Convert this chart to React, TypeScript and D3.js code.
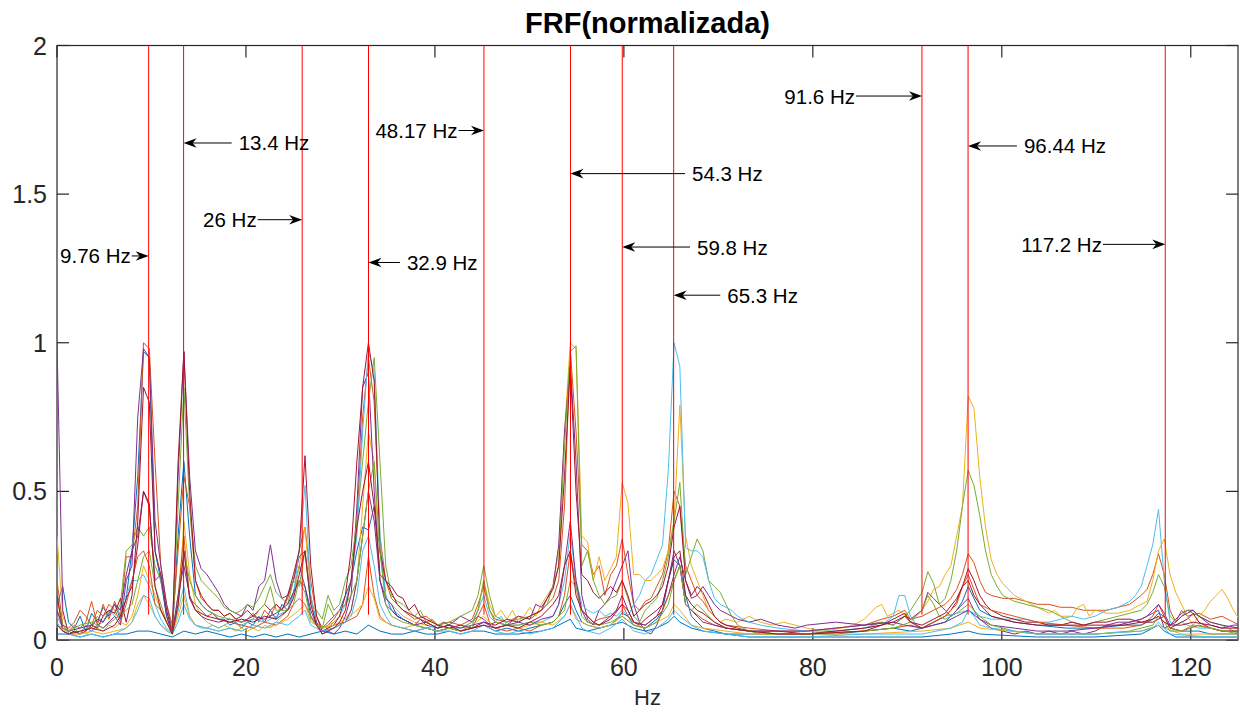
import React from 'react';
import * as d3 from 'd3';

type P = [number, number];

// frequency resolution (Hz per bin)
const DF = 0.6104;

const COLORS = ['#0072BD', '#D95319', '#EDB120', '#7E2F8E', '#77AC30', '#4DBEEE', '#A2142F'];

// each series: [bin, normalized value]
const blueA: P[] = [[0,0.12],[1,0.18],[2,0.06],[3,0.04],[4,0.08],[5,0.03],[6,0.09],[7,0.06],[8,0.11],[9,0.08],[10,0.12],[11,0.07],[12,0.14],[13,0.3],[14,0.55],[15,0.97],[16,0.95],[17,0.3],[18,0.2],[19,0.08],[20,0.02],[21,0.35],[22,0.6],[23,0.35],[24,0.15],[25,0.12],[26,0.1],[27,0.09],[28,0.07],[29,0.07],[30,0.05],[31,0.06],[32,0.04],[33,0.06],[34,0.05],[35,0.08],[36,0.06],[37,0.1],[38,0.07],[39,0.12],[40,0.1],[41,0.16],[42,0.25],[43,0.18],[44,0.08],[45,0.05],[46,0.04],[47,0.06],[48,0.08],[49,0.1],[50,0.15],[51,0.2],[52,0.3],[53,0.38],[54,0.37],[55,0.45],[56,0.3],[57,0.15],[58,0.1],[59,0.08],[60,0.07],[62,0.05],[64,0.04],[66,0.03],[68,0.04],[70,0.03],[72,0.04],[74,0.05],[76,0.03],[78,0.04],[80,0.03],[82,0.04],[84,0.05],[86,0.06],[87,0.08],[88,0.12],[89,0.15],[90,0.1],[91,0.06],[92,0.05],[94,0.04],[96,0.05],[98,0.09],[99,0.08],[100,0.05],[102,0.04],[104,0.07],[105,0.1],[106,0.2],[107,0.27],[108,0.25],[109,0.15],[110,0.08],[111,0.06],[112,0.04],[114,0.03],[116,0.02],[120,0.02],[125,0.02],[130,0.02],[135,0.02],[140,0.03],[145,0.04],[148,0.03],[150,0.04],[152,0.05],[154,0.06],[156,0.1],[157,0.13],[158,0.18],[159,0.14],[160,0.1],[162,0.08],[164,0.07],[166,0.06],[170,0.05],[175,0.04],[180,0.04],[185,0.05],[188,0.05],[190,0.07],[191,0.09],[192,0.08],[193,0.04],[195,0.03],[198,0.03],[200,0.02],[205,0.02]];

const orangeA: P[] = [[0,0.2],[1,0.05],[2,0.03],[3,0.05],[4,0.04],[5,0.06],[6,0.13],[7,0.05],[8,0.12],[9,0.07],[10,0.13],[11,0.08],[12,0.28],[13,0.28],[14,0.45],[15,1.0],[16,0.98],[17,0.6],[18,0.25],[19,0.12],[20,0.05],[21,0.3],[22,0.55],[23,0.45],[24,0.2],[25,0.14],[26,0.12],[27,0.1],[28,0.1],[29,0.08],[30,0.09],[31,0.07],[32,0.06],[33,0.07],[34,0.09],[35,0.06],[36,0.1],[37,0.08],[38,0.12],[39,0.1],[40,0.14],[41,0.2],[42,0.3],[43,0.38],[44,0.2],[45,0.08],[46,0.04],[47,0.05],[48,0.07],[49,0.1],[50,0.12],[51,0.2],[52,0.4],[53,0.75],[54,0.95],[55,0.8],[56,0.35],[57,0.2],[58,0.14],[59,0.12],[60,0.1],[62,0.07],[64,0.08],[66,0.05],[68,0.06],[70,0.05],[72,0.07],[73,0.12],[74,0.18],[75,0.1],[76,0.07],[78,0.06],[80,0.08],[82,0.07],[84,0.1],[85,0.12],[86,0.14],[87,0.2],[88,0.45],[89,0.98],[90,0.7],[91,0.32],[92,0.3],[93,0.22],[94,0.25],[95,0.15],[96,0.22],[97,0.25],[98,0.34],[99,0.22],[100,0.12],[101,0.1],[102,0.13],[103,0.14],[104,0.18],[105,0.22],[106,0.3],[107,0.5],[108,0.45],[109,0.25],[110,0.2],[111,0.15],[112,0.13],[113,0.1],[114,0.08],[115,0.06],[116,0.05],[120,0.04],[125,0.03],[130,0.03],[135,0.04],[140,0.05],[143,0.07],[145,0.08],[147,0.1],[148,0.07],[150,0.08],[152,0.1],[154,0.12],[155,0.14],[156,0.17],[157,0.22],[158,0.29],[159,0.26],[160,0.2],[161,0.16],[162,0.15],[164,0.14],[166,0.14],[168,0.13],[170,0.12],[172,0.12],[174,0.11],[176,0.11],[178,0.1],[180,0.1],[182,0.1],[184,0.11],[186,0.12],[188,0.15],[189,0.17],[190,0.22],[191,0.29],[192,0.22],[193,0.1],[194,0.06],[195,0.1],[196,0.08],[198,0.09],[200,0.07],[202,0.08],[204,0.06],[205,0.05]];

const yellowA: P[] = [[0,0.35],[1,0.08],[2,0.03],[3,0.02],[4,0.03],[5,0.02],[6,0.03],[7,0.04],[8,0.03],[9,0.05],[10,0.04],[11,0.06],[12,0.05],[13,0.08],[14,0.15],[15,0.25],[16,0.2],[17,0.15],[18,0.1],[19,0.06],[20,0.03],[21,0.1],[22,0.4],[23,0.22],[24,0.12],[25,0.08],[26,0.06],[27,0.05],[28,0.04],[29,0.05],[30,0.04],[31,0.03],[32,0.04],[33,0.03],[34,0.04],[35,0.03],[36,0.05],[37,0.04],[38,0.06],[39,0.08],[40,0.1],[41,0.15],[42,0.25],[43,0.38],[44,0.15],[45,0.06],[46,0.04],[47,0.05],[48,0.06],[49,0.08],[50,0.07],[51,0.1],[52,0.2],[53,0.45],[54,0.7],[55,0.6],[56,0.2],[57,0.14],[58,0.12],[59,0.1],[60,0.08],[62,0.06],[64,0.05],[65,0.07],[66,0.05],[67,0.06],[68,0.05],[70,0.04],[72,0.06],[73,0.1],[74,0.2],[75,0.12],[76,0.08],[77,0.1],[78,0.07],[79,0.1],[80,0.06],[81,0.08],[82,0.11],[83,0.08],[84,0.12],[85,0.15],[86,0.18],[87,0.3],[88,0.7],[89,1.0],[90,0.98],[91,0.35],[92,0.33],[93,0.2],[94,0.28],[95,0.2],[96,0.24],[97,0.28],[98,0.53],[99,0.46],[100,0.22],[101,0.22],[102,0.2],[103,0.2],[104,0.22],[105,0.24],[106,0.3],[107,0.4],[108,0.79],[109,0.35],[110,0.25],[111,0.2],[112,0.15],[113,0.1],[114,0.08],[115,0.06],[116,0.07],[118,0.06],[120,0.08],[122,0.06],[124,0.05],[126,0.06],[128,0.05],[130,0.04],[133,0.03],[136,0.04],[138,0.05],[140,0.07],[142,0.11],[143,0.12],[144,0.08],[146,0.1],[148,0.07],[150,0.1],[151,0.13],[152,0.17],[153,0.18],[154,0.22],[155,0.25],[156,0.35],[157,0.45],[158,0.82],[159,0.78],[160,0.55],[161,0.38],[162,0.27],[163,0.22],[164,0.19],[166,0.15],[168,0.13],[170,0.11],[172,0.09],[173,0.1],[174,0.08],[176,0.08],[177,0.11],[178,0.12],[179,0.08],[180,0.1],[182,0.09],[184,0.09],[186,0.1],[188,0.12],[189,0.13],[190,0.2],[191,0.3],[192,0.34],[193,0.22],[194,0.16],[195,0.12],[196,0.08],[197,0.05],[198,0.08],[199,0.1],[200,0.13],[201,0.15],[202,0.17],[203,0.14],[204,0.1],[205,0.07]];

const purpleA: P[] = [[0,1.0],[1,0.1],[2,0.02],[3,0.03],[4,0.02],[5,0.04],[6,0.03],[7,0.05],[8,0.04],[9,0.06],[10,0.08],[11,0.05],[12,0.2],[13,0.25],[14,0.75],[15,0.98],[16,0.95],[17,0.4],[18,0.25],[19,0.12],[20,0.03],[21,0.55],[22,0.97],[23,0.55],[24,0.3],[25,0.24],[26,0.22],[27,0.19],[28,0.16],[29,0.12],[30,0.1],[31,0.09],[32,0.08],[33,0.12],[34,0.1],[35,0.18],[36,0.2],[37,0.32],[38,0.2],[39,0.14],[40,0.15],[41,0.2],[42,0.28],[43,0.3],[44,0.14],[45,0.06],[46,0.02],[47,0.03],[48,0.02],[49,0.04],[50,0.08],[51,0.15],[52,0.45],[53,0.85],[54,0.9],[55,0.5],[56,0.2],[57,0.12],[58,0.1],[59,0.08],[60,0.07],[61,0.06],[62,0.05],[63,0.07],[64,0.05],[66,0.04],[67,0.06],[68,0.05],[70,0.08],[71,0.07],[72,0.06],[73,0.08],[74,0.07],[75,0.05],[76,0.06],[78,0.05],[80,0.08],[82,0.07],[83,0.12],[84,0.11],[85,0.14],[86,0.18],[87,0.32],[88,0.7],[89,0.93],[90,0.6],[91,0.15],[92,0.07],[93,0.05],[94,0.1],[95,0.12],[96,0.15],[97,0.2],[98,0.25],[99,0.3],[100,0.12],[101,0.06],[102,0.03],[103,0.02],[104,0.05],[105,0.1],[106,0.15],[107,0.22],[108,0.28],[109,0.2],[110,0.14],[111,0.15],[112,0.18],[113,0.15],[114,0.12],[115,0.1],[116,0.09],[118,0.07],[120,0.06],[122,0.07],[125,0.05],[128,0.04],[130,0.05],[135,0.06],[140,0.05],[143,0.06],[145,0.05],[147,0.08],[148,0.07],[150,0.1],[151,0.16],[152,0.14],[153,0.12],[154,0.1],[155,0.08],[156,0.1],[157,0.12],[158,0.14],[159,0.1],[160,0.07],[162,0.04],[164,0.03],[166,0.02],[168,0.03],[170,0.02],[172,0.03],[174,0.02],[176,0.03],[178,0.02],[180,0.03],[182,0.05],[184,0.06],[186,0.06],[188,0.07],[190,0.09],[191,0.1],[192,0.04],[193,0.05],[194,0.07],[195,0.09],[196,0.1],[197,0.1],[198,0.08],[200,0.05],[202,0.04],[204,0.05],[205,0.05]];

const greenA: P[] = [[0,0.15],[1,0.05],[2,0.03],[3,0.04],[4,0.02],[5,0.05],[6,0.04],[7,0.08],[8,0.06],[9,0.1],[10,0.09],[11,0.12],[12,0.3],[13,0.32],[14,0.38],[15,0.35],[16,0.38],[17,0.25],[18,0.2],[19,0.1],[20,0.03],[21,0.45],[22,0.85],[23,0.45],[24,0.25],[25,0.2],[26,0.18],[27,0.16],[28,0.14],[29,0.11],[30,0.1],[31,0.09],[32,0.1],[33,0.12],[34,0.11],[35,0.14],[36,0.18],[37,0.22],[38,0.16],[39,0.14],[40,0.12],[41,0.2],[42,0.18],[43,0.3],[44,0.12],[45,0.1],[46,0.07],[47,0.15],[48,0.1],[49,0.12],[50,0.2],[51,0.25],[52,0.4],[53,0.6],[54,0.8],[55,0.95],[56,0.6],[57,0.25],[58,0.15],[59,0.13],[60,0.12],[61,0.1],[62,0.08],[63,0.1],[64,0.06],[65,0.07],[66,0.05],[68,0.06],[70,0.08],[72,0.1],[73,0.15],[74,0.25],[75,0.15],[76,0.08],[77,0.07],[78,0.06],[80,0.07],[82,0.08],[84,0.1],[85,0.12],[86,0.18],[87,0.25],[88,0.65],[89,0.97],[90,0.99],[91,0.25],[92,0.3],[93,0.2],[94,0.15],[95,0.12],[96,0.14],[97,0.15],[98,0.2],[99,0.14],[100,0.08],[101,0.06],[102,0.1],[103,0.12],[104,0.14],[105,0.2],[106,0.28],[107,0.4],[108,0.53],[109,0.22],[110,0.28],[111,0.34],[112,0.3],[113,0.2],[114,0.18],[115,0.16],[116,0.12],[117,0.08],[118,0.05],[120,0.03],[122,0.02],[125,0.02],[130,0.02],[135,0.03],[140,0.04],[143,0.06],[145,0.05],[147,0.08],[148,0.1],[150,0.16],[151,0.23],[152,0.19],[153,0.12],[154,0.14],[155,0.2],[156,0.3],[157,0.45],[158,0.57],[159,0.52],[160,0.42],[161,0.3],[162,0.22],[163,0.18],[164,0.15],[165,0.14],[166,0.13],[168,0.12],[170,0.11],[172,0.1],[174,0.08],[176,0.06],[178,0.05],[180,0.06],[182,0.07],[184,0.08],[186,0.09],[188,0.1],[189,0.12],[190,0.16],[191,0.22],[192,0.18],[193,0.08],[194,0.06],[195,0.08],[196,0.1],[197,0.09],[198,0.08],[200,0.06],[202,0.05],[204,0.03],[205,0.02]];

const lightBlueA: P[] = [[0,0.08],[1,0.04],[2,0.02],[3,0.03],[4,0.02],[5,0.04],[6,0.03],[7,0.05],[8,0.06],[9,0.1],[10,0.08],[11,0.11],[12,0.15],[13,0.2],[14,0.2],[15,0.22],[16,0.18],[17,0.12],[18,0.07],[19,0.04],[20,0.02],[21,0.1],[22,0.18],[23,0.08],[24,0.05],[25,0.04],[26,0.04],[27,0.05],[28,0.04],[29,0.05],[30,0.06],[32,0.05],[34,0.07],[36,0.06],[38,0.08],[40,0.1],[41,0.15],[42,0.3],[43,0.52],[44,0.15],[45,0.05],[46,0.03],[47,0.04],[48,0.06],[49,0.08],[50,0.12],[51,0.2],[52,0.35],[53,0.7],[54,0.97],[55,0.9],[56,0.35],[57,0.15],[58,0.1],[59,0.09],[60,0.07],[62,0.05],[64,0.04],[66,0.05],[68,0.04],[70,0.04],[72,0.06],[73,0.1],[74,0.15],[75,0.08],[76,0.06],[77,0.08],[78,0.05],[80,0.05],[82,0.06],[84,0.06],[86,0.08],[87,0.12],[88,0.2],[89,0.36],[90,0.2],[91,0.12],[92,0.1],[93,0.09],[94,0.1],[95,0.08],[96,0.09],[97,0.08],[98,0.1],[99,0.08],[100,0.12],[101,0.15],[102,0.2],[103,0.22],[104,0.27],[105,0.32],[106,0.57],[107,1.0],[108,0.92],[109,0.31],[110,0.3],[111,0.3],[112,0.28],[113,0.2],[114,0.14],[115,0.12],[116,0.11],[117,0.1],[118,0.08],[120,0.06],[122,0.05],[125,0.04],[130,0.03],[135,0.03],[140,0.04],[143,0.05],[145,0.08],[146,0.15],[147,0.15],[148,0.08],[149,0.05],[150,0.04],[152,0.06],[154,0.08],[156,0.09],[158,0.1],[160,0.08],[162,0.07],[164,0.07],[166,0.07],[168,0.07],[170,0.06],[172,0.06],[174,0.07],[176,0.08],[178,0.07],[180,0.08],[182,0.1],[184,0.11],[186,0.13],[187,0.15],[188,0.18],[189,0.25],[190,0.32],[191,0.44],[192,0.2],[193,0.06],[194,0.05],[195,0.06],[196,0.05],[198,0.04],[200,0.04],[202,0.03],[205,0.03]];

const darkRedA: P[] = [[0,0.15],[1,0.03],[2,0.02],[3,0.03],[4,0.02],[5,0.03],[6,0.05],[7,0.04],[8,0.08],[9,0.1],[10,0.09],[11,0.14],[12,0.06],[13,0.15],[14,0.4],[15,0.85],[16,0.8],[17,0.3],[18,0.22],[19,0.1],[20,0.02],[21,0.6],[22,0.97],[23,0.5],[24,0.2],[25,0.15],[26,0.12],[27,0.1],[28,0.1],[29,0.08],[30,0.09],[31,0.07],[32,0.08],[33,0.1],[34,0.08],[35,0.1],[36,0.12],[37,0.1],[38,0.12],[39,0.1],[40,0.15],[41,0.22],[42,0.3],[43,0.62],[44,0.25],[45,0.08],[46,0.03],[47,0.04],[48,0.05],[49,0.08],[50,0.15],[51,0.3],[52,0.6],[53,0.85],[54,1.0],[55,0.87],[56,0.3],[57,0.2],[58,0.18],[59,0.15],[60,0.14],[61,0.1],[62,0.12],[63,0.08],[64,0.07],[66,0.05],[68,0.04],[70,0.05],[72,0.04],[74,0.06],[76,0.05],[78,0.07],[80,0.06],[82,0.08],[84,0.1],[85,0.14],[86,0.17],[87,0.25],[88,0.55],[89,0.92],[90,0.5],[91,0.22],[92,0.2],[93,0.16],[94,0.14],[95,0.16],[96,0.18],[97,0.16],[98,0.2],[99,0.15],[100,0.08],[101,0.1],[102,0.12],[103,0.13],[104,0.15],[105,0.18],[106,0.25],[107,0.38],[108,0.45],[109,0.2],[110,0.15],[111,0.18],[112,0.16],[113,0.12],[114,0.08],[115,0.06],[116,0.05],[118,0.04],[120,0.03],[125,0.03],[130,0.02],[135,0.03],[140,0.04],[143,0.05],[145,0.07],[147,0.09],[148,0.06],[150,0.04],[152,0.06],[154,0.08],[155,0.1],[156,0.13],[157,0.18],[158,0.24],[159,0.2],[160,0.15],[161,0.12],[162,0.1],[164,0.08],[166,0.07],[168,0.06],[170,0.06],[172,0.05],[174,0.05],[176,0.06],[178,0.05],[180,0.06],[182,0.06],[184,0.07],[186,0.07],[188,0.06],[190,0.06],[191,0.07],[192,0.08],[193,0.04],[194,0.05],[195,0.06],[196,0.07],[197,0.09],[198,0.06],[200,0.04],[202,0.03],[205,0.03]];

const blueB: P[] = [[0,0.02],[2,0.02],[4,0.01],[6,0.02],[8,0.01],[10,0.02],[12,0.02],[14,0.03],[16,0.03],[18,0.02],[20,0.01],[22,0.03],[24,0.02],[26,0.03],[28,0.02],[30,0.01],[32,0.02],[34,0.01],[36,0.02],[38,0.01],[40,0.02],[42,0.01],[44,0.02],[46,0.03],[48,0.02],[50,0.03],[52,0.02],[54,0.05],[56,0.03],[58,0.02],[60,0.02],[62,0.03],[64,0.02],[66,0.02],[68,0.03],[70,0.02],[72,0.03],[74,0.03],[76,0.02],[80,0.02],[84,0.03],[86,0.04],[88,0.06],[89,0.07],[90,0.04],[92,0.03],[94,0.04],[96,0.05],[98,0.06],[100,0.04],[102,0.03],[104,0.04],[106,0.06],[107,0.08],[108,0.06],[110,0.04],[112,0.03],[116,0.02],[120,0.01],[130,0.01],[140,0.01],[150,0.01],[155,0.02],[158,0.03],[160,0.02],[170,0.01],[180,0.01],[188,0.02],[191,0.05],[192,0.03],[194,0.01],[200,0.01],[205,0.01]];

const orangeB: P[] = [[0,0.1],[1,0.05],[2,0.04],[3,0.06],[4,0.1],[5,0.08],[6,0.05],[7,0.1],[8,0.08],[9,0.12],[10,0.1],[11,0.06],[12,0.12],[13,0.2],[14,0.28],[15,0.3],[16,0.25],[17,0.12],[18,0.1],[19,0.06],[20,0.02],[21,0.15],[22,0.35],[23,0.14],[24,0.12],[25,0.1],[26,0.08],[27,0.09],[28,0.07],[30,0.06],[32,0.05],[34,0.04],[36,0.06],[38,0.05],[40,0.08],[41,0.12],[42,0.14],[43,0.12],[44,0.08],[45,0.05],[46,0.04],[48,0.05],[50,0.06],[52,0.08],[53,0.12],[54,0.28],[55,0.15],[56,0.08],[57,0.06],[58,0.05],[60,0.04],[62,0.03],[64,0.04],[66,0.03],[68,0.04],[70,0.03],[72,0.04],[73,0.08],[74,0.12],[75,0.06],[76,0.04],[78,0.03],[80,0.04],[82,0.03],[84,0.05],[86,0.06],[87,0.08],[88,0.15],[89,0.3],[90,0.18],[91,0.1],[92,0.08],[93,0.06],[94,0.07],[96,0.08],[97,0.1],[98,0.12],[99,0.08],[100,0.06],[102,0.05],[104,0.08],[105,0.1],[106,0.15],[107,0.2],[108,0.25],[109,0.12],[110,0.1],[112,0.07],[114,0.05],[116,0.04],[120,0.03],[125,0.02],[130,0.02],[140,0.03],[145,0.04],[148,0.05],[150,0.04],[152,0.06],[154,0.08],[156,0.12],[157,0.18],[158,0.22],[159,0.17],[160,0.12],[162,0.1],[164,0.09],[166,0.08],[170,0.06],[175,0.05],[180,0.04],[185,0.04],[188,0.05],[190,0.08],[191,0.12],[192,0.08],[193,0.04],[195,0.03],[198,0.05],[200,0.04],[202,0.03],[205,0.03]];

const yellowB: P[] = [[0,0.05],[2,0.02],[4,0.02],[6,0.03],[8,0.02],[10,0.03],[12,0.04],[13,0.06],[14,0.12],[15,0.15],[16,0.12],[17,0.08],[18,0.05],[20,0.02],[21,0.08],[22,0.15],[23,0.08],[24,0.05],[26,0.04],[28,0.03],[30,0.04],[32,0.03],[34,0.05],[36,0.04],[38,0.05],[40,0.07],[42,0.1],[43,0.12],[44,0.06],[46,0.04],[48,0.05],[50,0.07],[52,0.1],[53,0.12],[54,0.18],[55,0.14],[56,0.07],[58,0.05],[60,0.04],[62,0.05],[64,0.04],[66,0.03],[68,0.04],[70,0.03],[72,0.05],[74,0.08],[76,0.04],[78,0.05],[80,0.04],[82,0.05],[84,0.06],[86,0.05],[88,0.08],[89,0.12],[90,0.07],[92,0.05],[94,0.04],[96,0.05],[98,0.08],[100,0.05],[102,0.04],[104,0.06],[106,0.08],[107,0.12],[108,0.1],[110,0.05],[112,0.04],[116,0.03],[120,0.02],[130,0.02],[140,0.02],[150,0.03],[155,0.04],[158,0.06],[160,0.04],[165,0.03],[170,0.02],[180,0.02],[188,0.03],[191,0.05],[192,0.04],[195,0.02],[200,0.02],[205,0.02]];

const purpleB: P[] = [[0,0.1],[1,0.04],[2,0.03],[4,0.04],[6,0.05],[7,0.07],[8,0.06],[9,0.09],[10,0.12],[11,0.1],[12,0.22],[13,0.3],[14,0.35],[15,0.5],[16,0.45],[17,0.2],[18,0.22],[19,0.08],[20,0.02],[21,0.15],[22,0.25],[23,0.15],[24,0.1],[25,0.08],[26,0.07],[28,0.06],[30,0.07],[32,0.06],[34,0.08],[36,0.07],[38,0.09],[40,0.12],[41,0.16],[42,0.2],[43,0.18],[44,0.1],[45,0.05],[46,0.03],[48,0.04],[50,0.06],[51,0.1],[52,0.2],[53,0.35],[54,0.5],[55,0.4],[56,0.2],[57,0.14],[58,0.12],[59,0.08],[60,0.07],[62,0.05],[64,0.06],[66,0.04],[68,0.05],[70,0.04],[72,0.05],[74,0.06],[76,0.04],[78,0.05],[80,0.06],[82,0.05],[84,0.07],[86,0.08],[87,0.12],[88,0.25],[89,0.4],[90,0.2],[91,0.1],[92,0.06],[94,0.05],[96,0.08],[97,0.1],[98,0.15],[99,0.1],[100,0.06],[102,0.05],[104,0.08],[105,0.12],[106,0.2],[107,0.3],[108,0.25],[109,0.12],[110,0.1],[111,0.08],[112,0.06],[114,0.05],[116,0.04],[120,0.03],[125,0.03],[130,0.03],[135,0.04],[140,0.05],[145,0.06],[147,0.05],[150,0.04],[152,0.05],[154,0.06],[156,0.08],[158,0.1],[160,0.07],[162,0.05],[166,0.04],[170,0.03],[175,0.03],[180,0.04],[184,0.05],[186,0.06],[188,0.07],[189,0.08],[190,0.1],[191,0.12],[192,0.09],[193,0.05],[194,0.06],[195,0.08],[196,0.09],[197,0.1],[198,0.08],[200,0.06],[202,0.05],[205,0.04]];

const greenB: P[] = [[0,0.05],[2,0.03],[4,0.05],[6,0.06],[8,0.04],[10,0.07],[12,0.1],[13,0.12],[14,0.2],[15,0.28],[16,0.3],[17,0.18],[18,0.12],[19,0.06],[20,0.02],[21,0.12],[22,0.3],[23,0.2],[24,0.15],[25,0.12],[26,0.1],[28,0.08],[30,0.07],[32,0.06],[34,0.07],[35,0.1],[36,0.12],[37,0.18],[38,0.1],[40,0.1],[41,0.12],[42,0.2],[43,0.16],[44,0.07],[45,0.05],[46,0.04],[47,0.12],[48,0.08],[50,0.12],[51,0.15],[52,0.2],[53,0.35],[54,0.5],[55,0.6],[56,0.3],[57,0.12],[58,0.08],[60,0.06],[62,0.05],[64,0.04],[66,0.03],[68,0.04],[70,0.03],[72,0.05],[73,0.1],[74,0.2],[75,0.1],[76,0.06],[78,0.05],[80,0.05],[82,0.06],[84,0.05],[86,0.06],[88,0.1],[89,0.2],[90,0.18],[91,0.08],[92,0.06],[94,0.05],[96,0.06],[98,0.08],[100,0.05],[102,0.04],[104,0.06],[106,0.12],[107,0.2],[108,0.25],[109,0.12],[110,0.1],[111,0.12],[112,0.1],[114,0.06],[116,0.04],[120,0.03],[125,0.02],[130,0.02],[140,0.03],[145,0.04],[148,0.06],[150,0.1],[151,0.15],[152,0.12],[153,0.08],[154,0.07],[156,0.09],[158,0.12],[160,0.08],[162,0.05],[166,0.03],[170,0.02],[180,0.02],[186,0.03],[190,0.05],[191,0.08],[192,0.06],[193,0.03],[195,0.03],[197,0.05],[200,0.04],[205,0.02]];

const lightBlueB: P[] = [[0,0.06],[1,0.03],[2,0.02],[4,0.01],[6,0.02],[8,0.01],[10,0.02],[12,0.04],[13,0.06],[14,0.1],[15,0.15],[16,0.14],[17,0.08],[18,0.05],[19,0.03],[20,0.02],[21,0.06],[22,0.12],[23,0.07],[24,0.05],[26,0.04],[28,0.03],[30,0.04],[32,0.03],[34,0.05],[36,0.04],[38,0.06],[40,0.05],[42,0.08],[43,0.1],[44,0.05],[46,0.03],[48,0.04],[50,0.06],[51,0.08],[52,0.15],[53,0.3],[54,0.35],[55,0.25],[56,0.12],[57,0.08],[58,0.05],[60,0.04],[62,0.03],[64,0.04],[66,0.03],[68,0.03],[70,0.02],[72,0.03],[74,0.05],[76,0.03],[78,0.02],[80,0.03],[82,0.02],[84,0.03],[86,0.04],[88,0.08],[89,0.12],[90,0.08],[91,0.04],[92,0.03],[94,0.02],[96,0.04],[98,0.07],[99,0.05],[100,0.03],[102,0.02],[104,0.04],[106,0.07],[107,0.1],[108,0.08],[110,0.05],[112,0.03],[116,0.02],[120,0.01],[130,0.01],[140,0.02],[150,0.02],[155,0.04],[157,0.06],[158,0.1],[159,0.08],[160,0.05],[162,0.04],[166,0.03],[170,0.02],[180,0.02],[188,0.03],[190,0.04],[191,0.06],[192,0.04],[193,0.02],[200,0.01],[205,0.01]];

const darkRedB: P[] = [[0,0.05],[1,0.03],[2,0.02],[4,0.03],[6,0.04],[8,0.03],[10,0.05],[11,0.08],[12,0.14],[13,0.18],[14,0.32],[15,0.5],[16,0.46],[17,0.18],[18,0.1],[19,0.06],[20,0.02],[21,0.12],[22,0.3],[23,0.14],[24,0.1],[26,0.08],[28,0.07],[30,0.06],[32,0.07],[34,0.06],[36,0.08],[38,0.07],[40,0.1],[41,0.14],[42,0.22],[43,0.3],[44,0.12],[45,0.05],[46,0.02],[47,0.03],[48,0.04],[49,0.06],[50,0.1],[51,0.2],[52,0.38],[53,0.5],[54,0.6],[55,0.45],[56,0.22],[57,0.2],[58,0.16],[59,0.12],[60,0.1],[62,0.08],[64,0.06],[66,0.04],[68,0.05],[70,0.03],[72,0.04],[74,0.05],[76,0.04],[78,0.05],[80,0.04],[82,0.06],[84,0.08],[86,0.12],[87,0.15],[88,0.25],[89,0.3],[90,0.15],[91,0.1],[92,0.08],[93,0.06],[94,0.05],[96,0.07],[98,0.12],[99,0.1],[100,0.06],[101,0.05],[102,0.07],[104,0.1],[105,0.12],[106,0.2],[107,0.28],[108,0.3],[109,0.15],[110,0.12],[111,0.1],[112,0.09],[114,0.06],[116,0.04],[120,0.03],[125,0.02],[130,0.02],[140,0.03],[143,0.05],[145,0.06],[147,0.08],[148,0.06],[150,0.05],[152,0.07],[154,0.09],[156,0.14],[157,0.18],[158,0.2],[159,0.15],[160,0.12],[162,0.08],[164,0.07],[166,0.06],[170,0.05],[175,0.05],[180,0.05],[185,0.05],[188,0.06],[190,0.07],[191,0.08],[192,0.06],[193,0.05],[195,0.05],[197,0.06],[200,0.05],[202,0.04],[205,0.04]];

const zeroRef: P[] = [[0,0],[205,0]];

const SERIES: P[][] = [blueA, orangeA, yellowA, purpleA, greenA, lightBlueA, darkRedA, blueB, orangeB, yellowB, purpleB, greenB, lightBlueB, darkRedB, zeroRef];

// modal frequencies marked with red lines (Hz)
const MODE_LINES = [9.7, 13.4, 25.95, 32.97, 45.19, 54.35, 59.83, 65.27, 91.55, 96.43, 117.3];
const MODE_LINE_BOTTOM = 0.085;

// annotation arrows: label, tip (Hz), tail (Hz), height (normalized units)
const ANN_LABELS = ['9.76 Hz', '13.4 Hz', '26 Hz', '32.9 Hz', '48.17 Hz', '54.3 Hz', '59.8 Hz', '65.3 Hz', '91.6 Hz', '96.44 Hz', '117.2 Hz'];
const ANN_TIPS = [9.7, 13.4, 25.95, 32.97, 45.19, 54.35, 59.83, 65.27, 91.55, 96.43, 117.3];
const ANN_TAILS = [7.91, 18.49, 21.24, 36.3, 42.5, 66.47, 67.0, 70.2, 84.57, 101.6, 110.7];
const ANN_Y = [1.292, 1.672, 1.414, 1.27, 1.714, 1.569, 1.322, 1.16, 1.83, 1.662, 1.331];

const X_TICKS = [0, 20, 40, 60, 80, 100, 120];
const Y_TICKS = [0, 0.5, 1, 1.5, 2];
const Y_TICK_LABELS = ['0', '0.5', '1', '1.5', '2'];

const W = 1240;
const H = 712;
const M = { left: 57, top: 45.5, right: 1238, bottom: 640 };
const FONT = '"Liberation Sans", Arial, Helvetica, sans-serif';
const AX = '#262626';

export default function App() {
  const x = d3.scaleLinear().domain([0, 125]).range([M.left, M.right]);
  const y = d3.scaleLinear().domain([0, 2]).range([M.bottom, M.top]);
  const line = d3.line<P>().x((d) => x(d[0] * DF)).y((d) => y(d[1]));
  const tick = 12;

  return (
    <svg width={W} height={H} style={{ position: 'absolute', left: 0, top: 0, background: '#fff' }} fontFamily={FONT}>
      <defs>
        <clipPath id="plotclip">
          <rect x={M.left} y={M.top} width={M.right - M.left} height={M.bottom - M.top} />
        </clipPath>
      </defs>
      <rect x={0} y={0} width={W} height={H} fill="#fff" />
      <rect x={M.left} y={M.top} width={M.right - M.left} height={M.bottom - M.top} fill="#fff" />

      {/* axis box + ticks */}
      <g stroke={AX} strokeWidth={1.2} fill="none">
        <rect x={M.left} y={M.top} width={M.right - M.left} height={M.bottom - M.top} />
        {X_TICKS.map((t) => (
          <g key={'xt' + t}>
            <line x1={x(t)} x2={x(t)} y1={M.bottom} y2={M.bottom - tick} />
            <line x1={x(t)} x2={x(t)} y1={M.top} y2={M.top + tick} />
          </g>
        ))}
        {Y_TICKS.map((t) => (
          <g key={'yt' + t}>
            <line x1={M.left} x2={M.left + tick} y1={y(t)} y2={y(t)} />
            <line x1={M.right} x2={M.right - tick} y1={y(t)} y2={y(t)} />
          </g>
        ))}
      </g>

      {/* data */}
      <g clipPath="url(#plotclip)" fill="none" strokeWidth={1} strokeLinejoin="round">
        {SERIES.map((s, i) => (
          <path key={'s' + i} d={line(s) || ''} stroke={COLORS[(i === SERIES.length - 1 ? 1 : i) % COLORS.length]} />
        ))}
      </g>

      {/* modal lines */}
      <g stroke="#FF0000" strokeWidth={1}>
        {MODE_LINES.map((f, i) => (
          <line key={'m' + i} x1={x(f)} x2={x(f)} y1={y(2)} y2={y(MODE_LINE_BOTTOM)} />
        ))}
      </g>

      {/* tick labels */}
      <g fill={AX} fontSize={25}>
        {X_TICKS.map((t) => (
          <text key={'xl' + t} x={x(t)} y={676} textAnchor="middle">{t}</text>
        ))}
        {Y_TICKS.map((t, i) => (
          <text key={'yl' + t} x={47} y={y(t) + 9} textAnchor="end">{Y_TICK_LABELS[i]}</text>
        ))}
      </g>

      {/* title and label */}
      <text x={(M.left + M.right) / 2} y={33} textAnchor="middle" fontSize={29} fontWeight="bold" fill="#000">FRF(normalizada)</text>
      <text x={(M.left + M.right) / 2} y={705} textAnchor="middle" fontSize={22} fill={AX}>Hz</text>

      {/* annotations */}
      <g>
        {ANN_LABELS.map((lab, i) => {
          const tip = x(ANN_TIPS[i]);
          const tail = x(ANN_TAILS[i]);
          const yy = y(ANN_Y[i]);
          const dir = tip > tail ? 1 : -1;
          const hl = 13;
          const hw = 4.8;
          const head = `M${tip},${yy} L${tip - dir * hl},${yy - hw} L${tip - dir * (hl - 4)},${yy} L${tip - dir * hl},${yy + hw} Z`;
          const tx = dir === 1 ? tail - 1 : tail + 7;
          return (
            <g key={'a' + i}>
              <line x1={tail} x2={tip - dir * 6} y1={yy} y2={yy} stroke="#000" strokeWidth={1} />
              <path d={head} fill="#000" />
              <text x={tx} y={yy + 7.5} fontSize={20.5} fill="#000" textAnchor={dir === 1 ? 'end' : 'start'}>{lab}</text>
            </g>
          );
        })}
      </g>
    </svg>
  );
}
